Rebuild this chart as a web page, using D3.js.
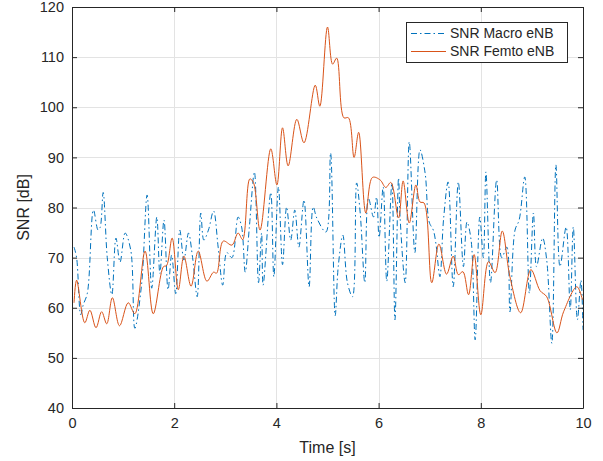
<!DOCTYPE html>
<html>
<head>
<meta charset="utf-8">
<script src="https://cdn.jsdelivr.net/npm/d3@7"></script>
<style>
  html, body { margin: 0; padding: 0; background: #fff; }
  svg { display: block; font-family: "Liberation Sans", Arial, Helvetica, sans-serif; }
</style>
</head>
<body>
<svg id="chart" width="603" height="461"></svg>
<script>
// ---- data ----
const xTicks = [0, 2, 4, 6, 8, 10];
const yTicks = [40, 50, 60, 70, 80, 90, 100, 110, 120];
const seriesNames = ["SNR Macro eNB", "SNR Femto eNB"];

const femtoTime = [0.04,0.09,0.25,0.35,0.47,0.58,0.68,0.79,0.93,1.10,1.23,1.43,1.59,1.79,1.85,1.96,2.08,2.19,2.33,2.47,2.64,2.77,2.83,2.96,3.13,3.25,3.34,3.48,3.55,3.68,3.89,4.01,4.12,4.23,4.40,4.54,4.76,4.85,5.00,5.10,5.18,5.32,5.41,5.52,5.61,5.75,5.88,6.03,6.14,6.24,6.39,6.48,6.60,6.73,6.81,6.89,7.04,7.18,7.33,7.46,7.56,7.65,7.76,7.87,8.00,8.15,8.28,8.42,8.57,8.78,8.98,9.16,9.29,9.49,9.62,9.88,9.99];
const femtoSNR = [61,65.5,57,59.5,56,59.2,56.8,62,56.4,61,58.8,71.3,58.8,68.2,68.4,73.9,63.6,70.3,64.3,71.3,65.3,67.1,66.9,73.3,72.5,74.9,73.6,85.7,85,75.5,91.7,84.5,95.9,88.3,97.6,92.9,104.4,100.2,116,108.6,109.8,97.9,97.9,90,95,78.9,86,85.5,84,85,77.9,85.3,76.9,84.5,81.1,80.9,65,72.7,66.7,70.3,66.6,67.2,62.6,70.6,58.6,69.2,67,75.3,66.2,59,67.6,63.4,62.2,55,59.2,64.2,61.6];

const macroTime = [0.04,0.09,0.17,0.22,0.30,0.42,0.51,0.55,0.61,0.69,0.78,0.86,0.94,1.04,1.15,1.23,1.36,1.47,1.56,1.66,1.72,1.80,1.88,1.95,2.03,2.11,2.19,2.28,2.36,2.45,2.52,2.58,2.67,2.77,2.86,2.95,3.03,3.13,3.25,3.32,3.39,3.47,3.57,3.65,3.71,3.74,3.89,3.95,4.04,4.12,4.20,4.28,4.36,4.44,4.54,4.64,4.72,4.79,4.97,5.06,5.15,5.21,5.30,5.39,5.49,5.57,5.64,5.73,5.80,5.90,5.96,6.01,6.09,6.16,6.26,6.32,6.39,6.42,6.52,6.60,6.71,6.81,6.91,6.99,7.07,7.12,7.20,7.27,7.36,7.46,7.56,7.66,7.73,7.81,7.89,7.98,8.05,8.10,8.19,8.31,8.41,8.51,8.57,8.67,8.75,8.86,8.95,9.03,9.09,9.21,9.29,9.39,9.47,9.55,9.67,9.75,9.81,9.89,9.96,10.0];
const macroSNR = [72.1,70,58.6,60.6,62.9,79.5,75.5,76,83,70,62.6,73.9,69.1,74.9,71.5,55.9,64.5,82.5,63.9,78.1,66.8,77.5,63.6,70.5,62.8,75.5,69.5,74.9,70,62.2,78.9,73.5,75.5,79.3,72.1,64.5,71,70,78.1,76.1,67.1,76,87.1,65,74.9,64.5,83,66.2,84.1,68.6,80.1,73.5,79.5,72.1,81.5,64.2,80.1,77.9,75.1,90.9,58.4,68.2,74.5,65,62.2,84.9,78.9,65,81.9,78.1,82.1,74,84.1,65.3,84.9,57.6,85.9,78.1,65,93.1,71,91.5,86.9,77.1,75.5,72.9,66.2,77.5,85.1,64.2,85.1,68.2,77.1,73.5,53.6,78.1,70,87.1,65,85.5,70,72.1,59.2,75.5,77.5,86.1,62.9,78.9,68.2,73.9,69.5,52.9,88.5,68.2,76.1,59.6,76.1,57.6,65.5,55.6];

// ---- layout ----
const W = 603, H = 461;
const L = 72, R = 583, T = 7, B = 408;
const axisColor = "#262626";
const colors = ["#0072BD", "#D95319"];

const svg = d3.select("#chart");
const x = d3.scaleLinear().domain([0, 10]).range([L, R]);
const y = d3.scaleLinear().domain([40, 120]).range([B, T]);

// grid
const grid = svg.append("g");
grid.selectAll("line.vx").data(xTicks).join("line")
  .attr("x1", d => Math.round(x(d)) + 0.5).attr("x2", d => Math.round(x(d)) + 0.5)
  .attr("y1", T).attr("y2", B)
  .attr("stroke", "#e3e3e3").attr("stroke-width", 1);
grid.selectAll("line.hy").data(yTicks).join("line")
  .attr("y1", d => Math.round(y(d)) + 0.5).attr("y2", d => Math.round(y(d)) + 0.5)
  .attr("x1", L).attr("x2", R)
  .attr("stroke", "#e3e3e3").attr("stroke-width", 1);

// clip
svg.append("clipPath").attr("id", "clip").append("rect")
  .attr("x", L).attr("y", T).attr("width", R - L).attr("height", B - T);

const line = d3.line().x(d => x(d[0])).y(d => y(d[1])).curve(d3.curveCatmullRom.alpha(0.5));
const macro = macroTime.map((t, i) => [t, macroSNR[i]]);
const femto = femtoTime.map((t, i) => [t, femtoSNR[i]]);

const plot = svg.append("g").attr("clip-path", "url(#clip)");
plot.append("path").datum(macro).attr("d", line)
  .attr("fill", "none").attr("stroke", colors[0]).attr("stroke-width", 1)
  .attr("stroke-dasharray", "6,3,1.5,3");
plot.append("path").datum(femto).attr("d", line)
  .attr("fill", "none").attr("stroke", colors[1]).attr("stroke-width", 1);

// axes
const fmt = d3.format("d");
const xAxisB = d3.axisBottom(x).tickValues(xTicks).tickFormat(fmt).tickSizeInner(-5).tickSizeOuter(0).tickPadding(10);
const xAxisT = d3.axisTop(x).tickValues(xTicks).tickFormat("").tickSizeInner(-5).tickSizeOuter(0);
const yAxisL = d3.axisLeft(y).tickValues(yTicks).tickFormat(fmt).tickSizeInner(-5).tickSizeOuter(0).tickPadding(8);
const yAxisR = d3.axisRight(y).tickValues(yTicks).tickFormat("").tickSizeInner(-5).tickSizeOuter(0);

function styleAxis(g) {
  g.selectAll("path.domain").attr("stroke", axisColor);
  g.selectAll(".tick line").attr("stroke", axisColor);
  g.selectAll(".tick text").attr("fill", axisColor).style("font-size", "14.5px")
    .style("font-family", '"Liberation Sans", Arial, sans-serif');
}
svg.append("g").attr("transform", `translate(0,${B})`).call(xAxisB).call(styleAxis);
svg.append("g").attr("transform", `translate(0,${T})`).call(xAxisT).call(styleAxis);
svg.append("g").attr("transform", `translate(${L},0)`).call(yAxisL).call(styleAxis);
svg.append("g").attr("transform", `translate(${R},0)`).call(yAxisR).call(styleAxis);

// labels
svg.append("text").attr("x", (L + R) / 2).attr("y", 453).attr("text-anchor", "middle")
  .attr("fill", axisColor).style("font-size", "16px").text("Time [s]");
svg.append("text").attr("transform", `translate(28.5,${(T + B) / 2}) rotate(-90)`)
  .attr("text-anchor", "middle").attr("fill", axisColor).style("font-size", "16px").text("SNR [dB]");

// legend
const lg = svg.append("g");
lg.append("rect").attr("x", 406.5).attr("y", 22.5).attr("width", 161).attr("height", 40)
  .attr("fill", "#fff").attr("stroke", axisColor).attr("stroke-width", 1);
const rows = [33.5, 51.5];
seriesNames.forEach((name, i) => {
  lg.append("line").attr("x1", 411).attr("x2", 446).attr("y1", rows[i]).attr("y2", rows[i])
    .attr("stroke", colors[i]).attr("stroke-width", 1)
    .attr("stroke-dasharray", i === 0 ? "6,3,1.5,3" : null);
  lg.append("text").attr("x", 450).attr("y", rows[i]).attr("dy", "0.35em")
    .attr("fill", axisColor).style("font-size", "14px").text(name);
});
</script>
</body>
</html>
